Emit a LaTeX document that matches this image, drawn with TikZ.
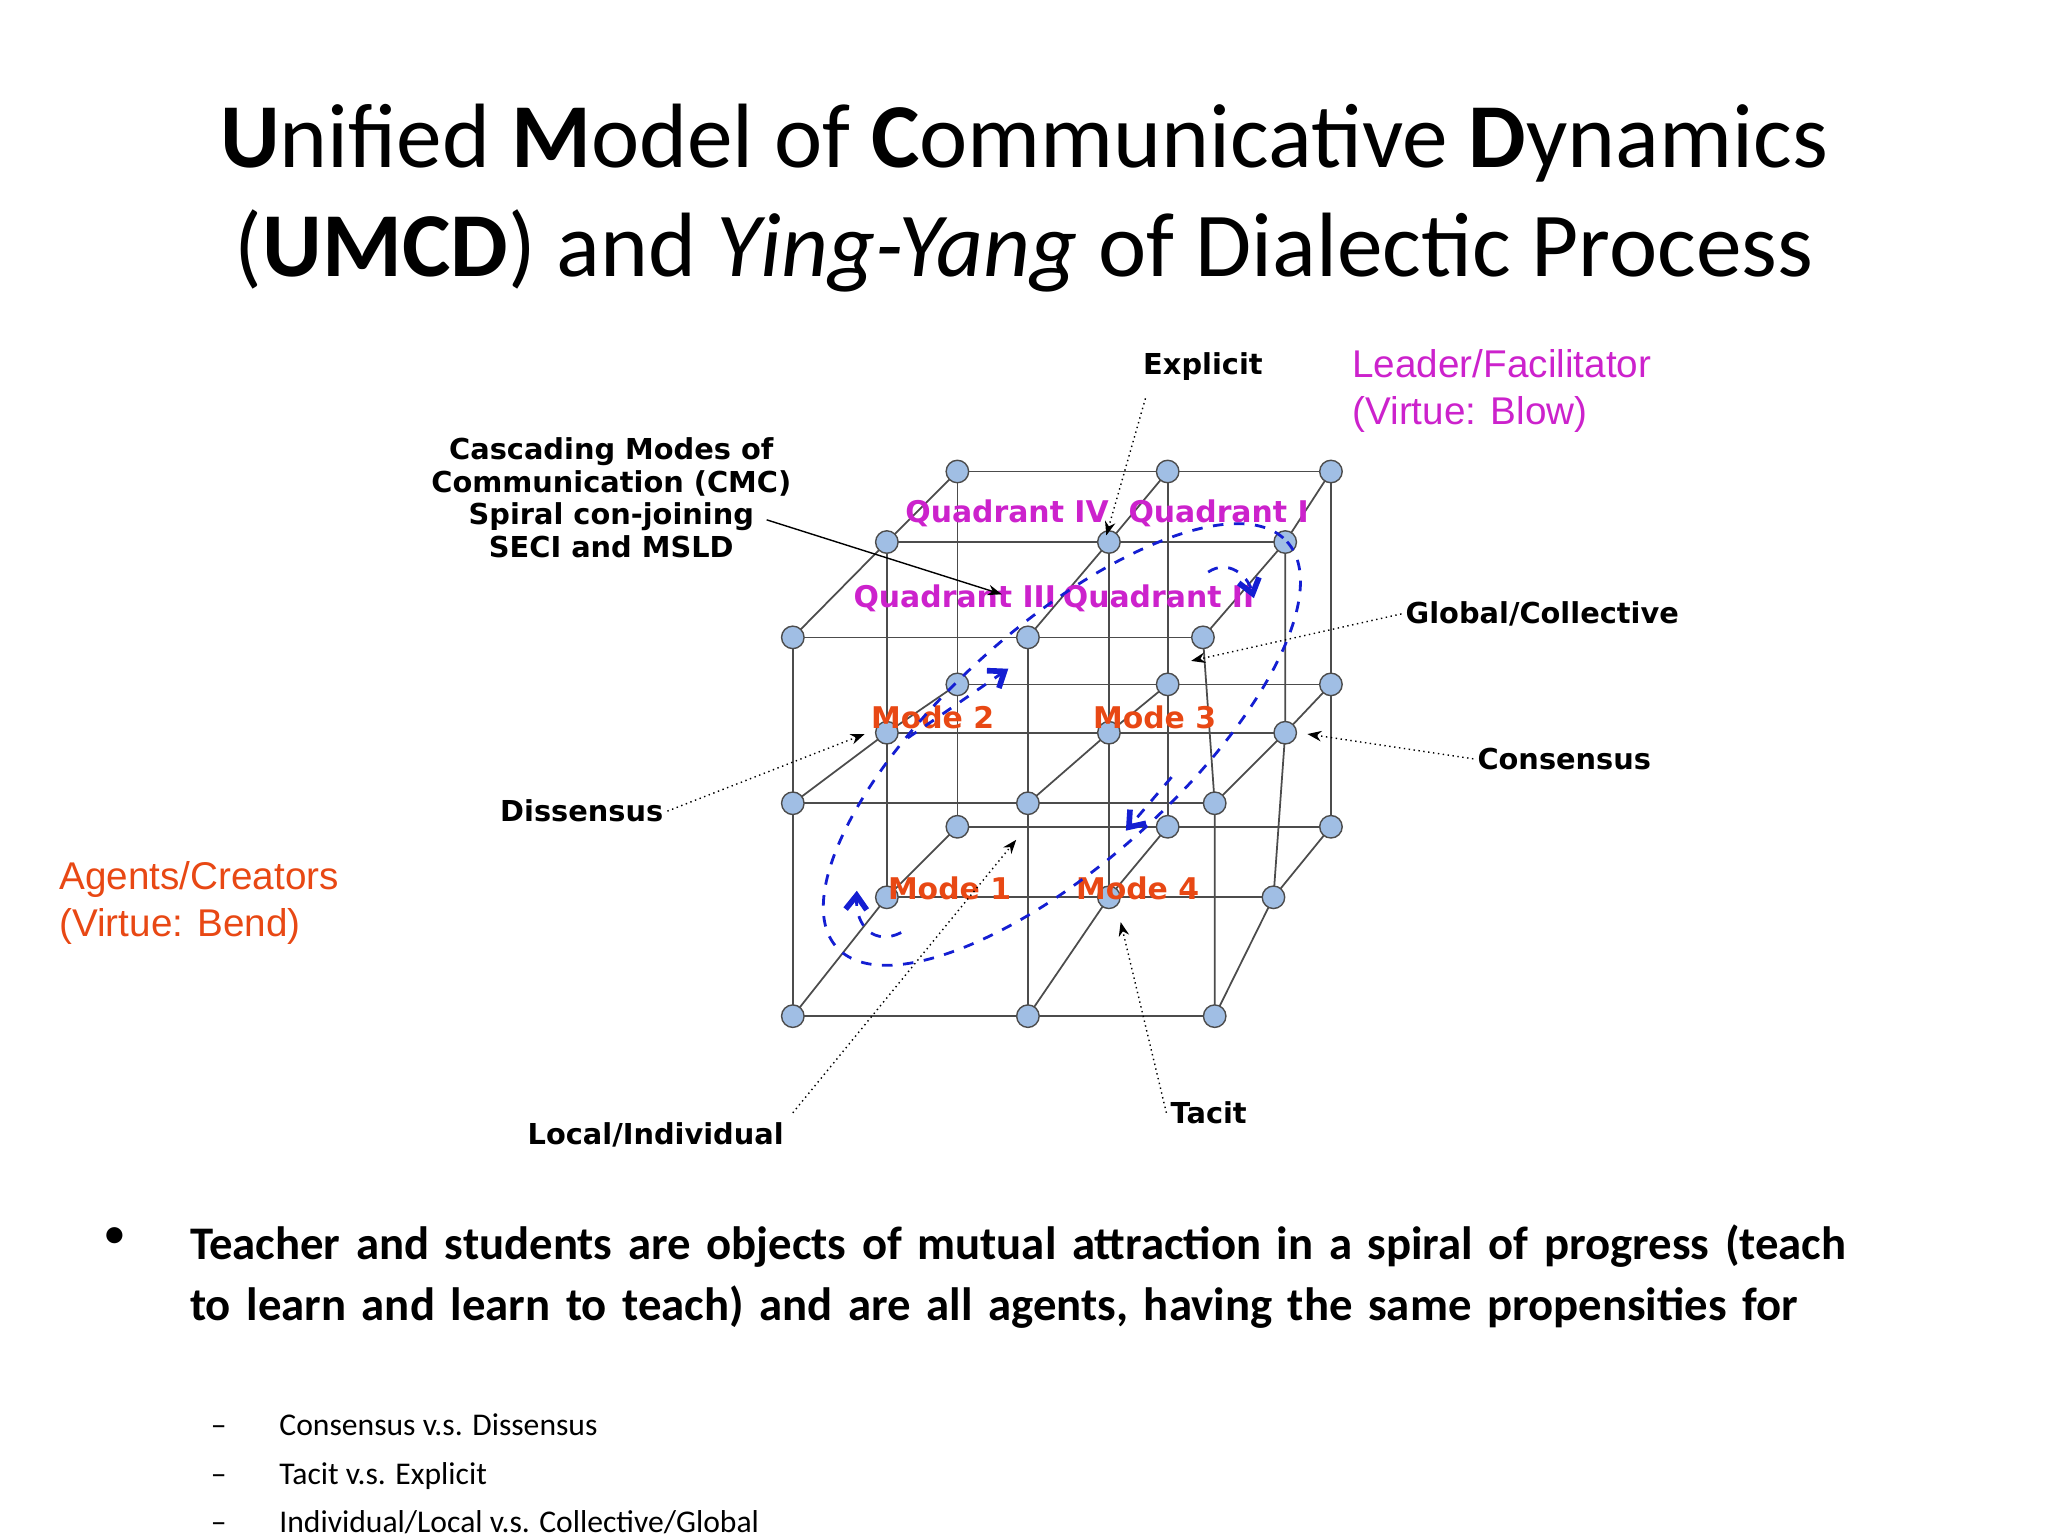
\documentclass[tikz,border=0pt]{standalone}
\usepackage{fontspec}
\setmainfont{Carlito}
\newfontfamily\vd{DejaVu Sans}
\newfontfamily\ar{Liberation Sans}
\usetikzlibrary{arrows.meta}
\definecolor{ball}{RGB}{160,190,228}
\definecolor{mag}{RGB}{204,34,204}
\definecolor{org}{RGB}{232,72,20}
\definecolor{blu}{RGB}{20,30,210}
\begin{document}
\begin{tikzpicture}[x=0.01306cm,y=-0.01306cm,
  ball/.style={circle,draw=black!70,fill=ball,line width=0.4pt,minimum size=6.4pt,inner sep=0pt},
  grid/.style={draw=black!70,line width=0.5pt},
  lbl/.style={font=\vd\bfseries\fontsize{8.2pt}{9.3pt}\selectfont,inner sep=1pt},
  quad/.style={font=\vd\bfseries\fontsize{8.5pt}{10pt}\selectfont,text=mag,inner sep=0pt},
  mode/.style={font=\vd\bfseries\fontsize{8.5pt}{10pt}\selectfont,text=org,inner sep=0pt},
  ann/.style={densely dotted,line width=0.4pt,-{Stealth[length=4pt,width=3pt]}},
  spir/.style={blu,dashed,line width=0.8pt,-{Straight Barb[length=4pt,width=6pt,line width=1.6pt]}}]
\useasboundingbox (0,0) rectangle (1568,1176);
% layers
\foreach \L/\xa/\xb/\xc/\ya/\yb/\yc in {f/607/787/930/488/615/778, m/679/849/984/415/561/687, b/733/894/1019/361/524/633}{
  \foreach \i/\x in {1/\xa,2/\xb,3/\xc}{
    \foreach \j/\y in {1/\ya,2/\yb,3/\yc}{
      \coordinate (\L\i\j) at (\x,\y);
    }}}
\coordinate (f31) at (921,488);
\coordinate (m33) at (975,687);
\foreach \L in {f,m,b}{
  \foreach \j in {1,2,3}{ \draw[grid] (\L1\j)--(\L2\j)--(\L3\j); }
  \foreach \i in {1,2,3}{ \draw[grid] (\L\i1)--(\L\i2)--(\L\i3); }
}
\foreach \i in {1,2,3}{\foreach \j in {1,2,3}{ \draw[grid] (f\i\j)--(m\i\j)--(b\i\j); }}
\foreach \L in {b,m,f}{\foreach \i in {1,2,3}{\foreach \j in {1,2,3}{ \node[ball] (n\L\i\j) at (\L\i\j) {}; }}}
% labels in cube
\node[quad] (q4) at (771,393) {Quadrant IV};
\node[quad] (q1) at (933,393) {Quadrant I};
\node[quad] (q3) at (731,458) {Quadrant III};
\node[quad] (q2) at (887,458) {Quadrant II};
\node[mode] (m2) at (714,549) {Mode 2};
\node[mode] (m3) at (884,549) {Mode 3};
\node[mode] (m1) at (727,680) {Mode 1};
\node[mode] (m4) at (871,680) {Mode 4};
% ellipse
\draw[blu,dashed,line width=0.8pt,rotate around={42:(813,570)}] (813,570) ellipse [x radius=232,y radius=90];
% spiral arrows
\draw[spir] (695,565) -- (772,512);
\draw[spir] (897,595) -- (862,636);
\draw[spir] (925,438) .. controls (940,428) and (955,440) .. (960,458);
\draw[spir] (690,714) .. controls (670,724) and (655,710) .. (656,682);
% annotations
\node[lbl] (expl) at (921,281) {Explicit};
\node[lbl,align=center] (casc) at (468,381) {Cascading Modes of\\Communication (CMC)\\Spiral con-joining\\SECI and MSLD};
\node[lbl,anchor=west] (glob) at (1073,470) {Global/Collective};
\node[lbl,anchor=west] (cons) at (1128,581) {Consensus};
\node[lbl,anchor=east] (diss) at (511,621) {Dissensus};
\node[lbl] (loc) at (502,869) {Local/Individual};
\node[lbl,anchor=west] (tac) at (893,852) {Tacit};
\coordinate (e1) at (877,305); \coordinate (e2) at (847,410);
\draw[ann] (e1)--(e2);
\coordinate (c1) at (587,398); \coordinate (c2) at (767,455);
\draw[ann,solid] (c1)--(c2);
\coordinate (g2) at (912,506); \draw[ann] (glob.west)--(g2);
\coordinate (k2) at (1001,562); \draw[ann] (cons.west)--(k2);
\coordinate (d2) at (662,562); \draw[ann] (diss.east)--(d2);
\coordinate (l1) at (607,852); \coordinate (l2) at (778,643); \draw[ann] (l1)--(l2);
\coordinate (t1) at (893,852); \coordinate (t2) at (858,706); \draw[ann] (t1)--(t2);
% side labels
\node[font=\ar\fontsize{11pt}{13.5pt}\selectfont,text=mag,align=left,anchor=north west] (lead) at (1026,258) {Leader/Facilitator\\(Virtue: Blow)};
\node[font=\ar\fontsize{11pt}{13.5pt}\selectfont,text=org,align=left,anchor=north west] (agent) at (36,650) {Agents/Creators\\(Virtue: Bend)};
% title
\node[font=\fontsize{26pt}{31pt}\selectfont,align=center] (title) at (784,152) {\textbf{U}nified \textbf{M}odel of \textbf{C}ommunicative \textbf{D}ynamics\\(\textbf{UMCD}) and \textit{Ying-Yang} of Dialectic Process};
% bullets
\node[font=\fontsize{13.3pt}{17.5pt}\selectfont\bfseries,align=left,anchor=north west,text width=475pt] (bul) at (136,928) {Teacher and students are objects of mutual attraction in a spiral of progress (teach to learn and learn to teach) and are all agents, having the same propensities for};
\node[font=\fontsize{13pt}{15pt}\selectfont] (dot) at (88,948) {\textbullet};
\node[font=\fontsize{9pt}{13.8pt}\selectfont,align=left,anchor=north west] (sub) at (152,1073) {--\hspace{15pt}Consensus v.s. Dissensus\\--\hspace{15pt}Tacit v.s. Explicit\\--\hspace{15pt}Individual/Local v.s. Collective/Global};
\end{tikzpicture}
\end{document}
